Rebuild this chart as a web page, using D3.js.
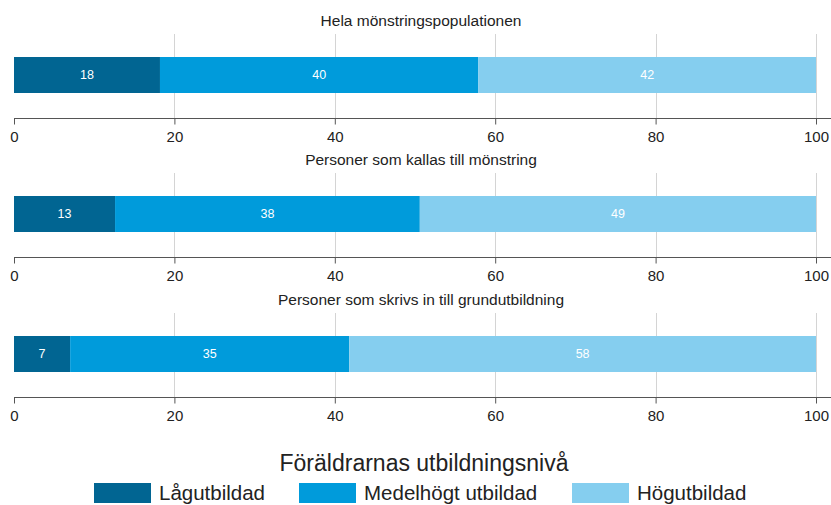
<!DOCTYPE html>
<html>
<head>
<meta charset="utf-8">
<script src="https://cdn.jsdelivr.net/npm/d3@7"></script>
<style>
  body { margin: 0; background: #fff; }
  svg { font-family: "Liberation Sans", Arial, sans-serif; display: block; }
  .panel-title { font-size: 15.5px; fill: #222; }
  .bar-label { font-size: 12.5px; fill: #fff; }
  .axis text { font-size: 15px; fill: #222; font-family: "Liberation Sans", Arial, sans-serif; }
  .axis path, .axis line { stroke: #555; }
  .grid line { stroke: #d4d4d4; }
  .legend-title { font-size: 23px; fill: #222; }
  .legend-label { font-size: 20.5px; fill: #222; }
</style>
</head>
<body>
<svg id="chart"></svg>
<script>
const width = 831;
const height = 505;

// data
const groups = [
  "Hela mönstringspopulationen",
  "Personer som kallas till mönstring",
  "Personer som skrivs in till grundutbildning"
];
const categories = ["Lågutbildad", "Medelhögt utbildad", "Högutbildad"];
const lowValues = [18.2, 12.6, 7.0];
const midValues = [39.7, 38.0, 34.8];
const highValues = [42.1, 49.4, 58.2];
const tickValues = [0, 20, 40, 60, 80, 100];
const legendTitle = "Föräldrarnas utbildningsnivå";

const colors = ["#016592", "#009bdb", "#85ceef"];

const svg = d3.select("#chart")
  .attr("width", width)
  .attr("height", height);

const x = d3.scaleLinear()
  .domain([0, 100])
  .range([14, 816]);

// panel layout
const panelTop = [34, 173, 313];
const panelHeight = 84;

groups.forEach((name, i) => {
  const top = panelTop[i];
  const axisY = top + panelHeight;
  const g = svg.append("g").attr("class", "panel");

  // title
  g.append("text")
    .attr("class", "panel-title")
    .attr("x", 421)
    .attr("y", top - 8)
    .attr("text-anchor", "middle")
    .text(name);

  // gridlines
  g.append("g")
    .attr("class", "grid")
    .selectAll("line")
    .data(tickValues.slice(1))
    .join("line")
    .attr("x1", d => Math.round(x(d)) + 0.5)
    .attr("x2", d => Math.round(x(d)) + 0.5)
    .attr("y1", top)
    .attr("y2", axisY);

  // stacked bar
  const vals = [lowValues[i], midValues[i], highValues[i]];
  let cum = 0;
  const segs = vals.map((v, k) => {
    const s = { k: k, start: cum, end: cum + v, value: v };
    cum += v;
    return s;
  });
  const bandY = top + 23;
  const bandH = 36;

  g.selectAll(".seg")
    .data(segs)
    .join("rect")
    .attr("class", "seg")
    .attr("x", d => x(d.start))
    .attr("width", d => x(d.end) - x(d.start))
    .attr("y", bandY)
    .attr("height", bandH)
    .attr("fill", d => colors[d.k]);

  g.selectAll(".bar-label")
    .data(segs)
    .join("text")
    .attr("class", "bar-label")
    .attr("x", d => (x(d.start) + x(d.end)) / 2)
    .attr("y", bandY + bandH / 2)
    .attr("text-anchor", "middle")
    .attr("dominant-baseline", "central")
    .text(d => Math.round(d.value));

  // axis
  const axis = g.append("g")
    .attr("class", "axis")
    .attr("transform", `translate(0,${axisY + 0.5})`)
    .call(d3.axisBottom(x).tickValues(tickValues).tickSize(6).tickSizeOuter(0));
  axis.select(".domain").attr("d", `M${x(0)},0H${width}`);
  axis.selectAll(".tick line").attr("y1", 0).attr("y2", 6);
  axis.selectAll(".tick text").attr("y", 13).attr("dy", "0.71em");
});

// legend
svg.append("text")
  .attr("class", "legend-title")
  .attr("x", 424)
  .attr("y", 471)
  .attr("text-anchor", "middle")
  .text(legendTitle);

const legendX = [94, 299, 572];
const legend = svg.selectAll(".legend-item")
  .data(categories)
  .join("g")
  .attr("class", "legend-item")
  .attr("transform", (d, i) => `translate(${legendX[i]},483)`);

legend.append("rect")
  .attr("width", 57)
  .attr("height", 20)
  .attr("fill", (d, i) => colors[i]);

legend.append("text")
  .attr("class", "legend-label")
  .attr("x", 65)
  .attr("y", 17)
  .text(d => d);
</script>
</body>
</html>
